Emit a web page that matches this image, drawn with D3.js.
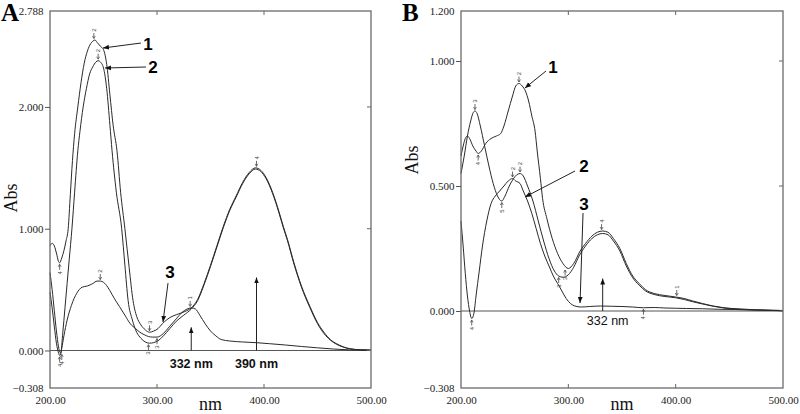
<!DOCTYPE html>
<html><head><meta charset="utf-8">
<script src="https://cdn.jsdelivr.net/npm/d3@7"></script>
<style>body{margin:0;background:#fff}svg{display:block}</style>
</head><body>
<svg id="c" width="800" height="414"></svg>
<script>
// ---------- data ----------
const xTicks = [200, 300, 400, 500];
const yTicksA = [-0.308, 0, 1, 2, 2.788];
const yTicksB = [-0.308, 0, 0.5, 1, 1.2];

const curveA1 = [[200,0.86],[202,0.88],[204,0.86],[206,0.80],[208,0.73],[209,0.72],[211,0.76],[213,0.82],[215,0.90],[217,1.00],[219,1.28],[221,1.56],[223,1.78],[226,2.00],[229,2.20],[232,2.36],[235,2.46],[238,2.52],[240,2.54],[242,2.55],[244,2.53],[247,2.50],[250,2.47],[253,2.35],[256,2.10],[259,1.85],[262.6,1.64],[266,1.30],[270,1.00],[274,0.68],[277.6,0.41],[281,0.28],[285,0.21],[289,0.17],[293,0.15],[297,0.16],[301,0.18],[305,0.22],[312,0.27],[320,0.30],[326,0.32],[332,0.35],[338,0.42],[344,0.55],[350,0.70],[356,0.86],[362,1.02],[368,1.16],[374,1.27],[380,1.38],[386,1.46],[392,1.50],[397,1.48],[402,1.42],[408,1.30],[414,1.14],[418,1.02],[422,0.91],[428,0.72],[435,0.53],[443,0.36],[450,0.23],[456,0.15],[462,0.09],[468,0.055],[474,0.03],[480,0.015],[490,0.006],[500,0.003]];
const curveA2 = [[200,0.48],[202,0.35],[204,0.20],[206,0.06],[208,-0.02],[209,-0.04],[210,-0.03],[212,0.15],[214,0.35],[216,0.55],[218,0.75],[220.5,1.00],[223,1.30],[226,1.64],[228,1.80],[231,2.00],[234,2.15],[237,2.27],[240,2.33],[243,2.37],[245,2.38],[247,2.37],[250,2.32],[253,2.15],[256,1.85],[258,1.64],[262,1.30],[267,1.00],[270,0.70],[273,0.41],[277,0.25],[281,0.15],[285,0.10],[289,0.07],[293,0.06],[297,0.065],[301,0.08],[306,0.12],[312,0.18],[318,0.24],[325,0.29],[332,0.34],[338,0.41],[344,0.54],[350,0.69],[356,0.85],[362,1.01],[368,1.15],[374,1.26],[380,1.37],[386,1.45],[392,1.49],[397,1.47],[402,1.41],[408,1.29],[414,1.13],[418,1.01],[422,0.90],[428,0.71],[435,0.52],[443,0.35],[450,0.22],[456,0.14],[462,0.085],[468,0.05],[474,0.028],[480,0.014],[490,0.005],[500,0.002]];
const curveA3 = [[200,0.64],[202,0.50],[204,0.33],[206,0.16],[208,0.03],[209,-0.01],[210,-0.02],[211,0.02],[213,0.12],[216,0.25],[220,0.37],[225,0.47],[230,0.52],[235,0.53],[240,0.55],[244,0.57],[247,0.57],[250,0.56],[254,0.52],[258,0.46],[262,0.40],[265,0.36],[270,0.29],[275,0.22],[280,0.18],[284,0.15],[288,0.13],[292,0.115],[296,0.11],[300,0.11],[306,0.14],[312,0.20],[318,0.26],[323,0.31],[328,0.34],[332,0.35],[336,0.34],[340,0.29],[345,0.22],[350,0.16],[355,0.12],[360,0.09],[368,0.078],[380,0.07],[393,0.064],[405,0.056],[420,0.045],[435,0.033],[450,0.022],[465,0.012],[480,0.005],[500,0.002]];

const curveB1 = [[200,0.62],[202,0.66],[204,0.69],[206,0.70],[208,0.69],[211,0.66],[214,0.64],[216,0.63],[219,0.64],[223,0.67],[228,0.69],[233,0.70],[237,0.71],[240,0.74],[244,0.80],[248,0.86],[251,0.90],[254,0.91],[257,0.90],[260,0.88],[263,0.84],[266,0.78],[269,0.72],[271,0.64],[274,0.53],[276,0.45],[280,0.37],[285,0.29],[290,0.23],[295,0.19],[300,0.17],[305,0.19],[311,0.24],[316,0.27],[322,0.30],[327,0.315],[332,0.32],[337,0.315],[342,0.29],[348,0.25],[354,0.19],[360,0.14],[366,0.11],[372,0.085],[380,0.07],[390,0.062],[400,0.056],[408,0.05],[416,0.04],[425,0.03],[435,0.02],[445,0.013],[460,0.008],[475,0.005],[490,0.003],[500,0.002]];
const curveB2 = [[200,0.55],[203,0.62],[206,0.70],[209,0.76],[211,0.79],[213,0.80],[215,0.79],[218,0.74],[222,0.66],[226,0.58],[230,0.51],[234,0.46],[238,0.44],[241,0.46],[245,0.50],[249,0.53],[252,0.545],[255,0.55],[258,0.54],[262,0.50],[267,0.44],[272,0.36],[277,0.28],[282,0.21],[287,0.16],[291,0.14],[295,0.135],[300,0.145],[305,0.175],[310,0.22],[316,0.26],[322,0.29],[327,0.305],[332,0.31],[337,0.305],[342,0.28],[348,0.24],[354,0.18],[360,0.133],[366,0.103],[372,0.08],[380,0.066],[390,0.058],[400,0.053],[408,0.046],[416,0.037],[425,0.028],[435,0.019],[445,0.012],[460,0.007],[475,0.004],[490,0.002],[500,0.001]];
const curveB3 = [[200,0.36],[202,0.26],[204,0.15],[206,0.06],[208,0.0],[210,-0.03],[212,-0.01],[214,0.06],[217,0.16],[220,0.26],[224,0.36],[228,0.43],[232,0.46],[236,0.48],[240,0.50],[244,0.52],[248,0.53],[251,0.52],[255,0.51],[258,0.48],[262,0.44],[266,0.39],[270,0.33],[274,0.27],[278,0.22],[282,0.18],[286,0.14],[290,0.11],[294,0.08],[298,0.05],[302,0.03],[306,0.02],[312,0.016],[320,0.018],[330,0.02],[340,0.019],[350,0.018],[360,0.016],[370,0.013],[380,0.014],[390,0.012],[400,0.011],[410,0.01],[425,0.009],[440,0.007],[455,0.006],[470,0.004],[485,0.003],[500,0.002]];

// peak-pick markers: [nm, abs, digit, side(-1 above, +1 below)]
const markersA = [[241,2.55,"2",-1],[245,2.38,"2",-1],[209,0.72,"4",1],[209,-0.04,"4",1],[211,-0.02,"4",1],[247,0.57,"2",-1],[292,0.06,"3",1],[300,0.11,"3",1],[293,0.15,"3",-1],[331,0.35,"1",-1],[393,1.50,"4",-1]];
const markersB = [[254,0.91,"2",-1],[213,0.80,"3",-1],[216,0.63,"4",1],[238,0.44,"5",1],[248,0.53,"2",-1],[255,0.55,"2",-1],[210,-0.03,"4",1],[297,0.17,"3",1],[291,0.14,"3",1],[331,0.32,"4",-1],[401,0.056,"1",-1],[370,0.013,"4",1]];

// curve callouts: label, label pos, line start, arrow tip (data coords)
const calloutsA = [["1",[291.6,2.517],[285.0,2.525],[249.5,2.484]],["2",[296.3,2.328],[289.7,2.328],[251.4,2.32]],["3",[312.1,0.645],[310.3,0.554],[305.6,0.234]]];
const calloutsB = [["1",[285.7,0.976],[279.2,0.96],[259.6,0.892]],["2",[314.6,0.58],[306.2,0.56],[259.6,0.456]],["3",[314.6,0.428],[313.7,0.392],[310.9,0.032]]];
// wavelength arrows: [nm, arrow head abs, label]
const waveA = [[332,0.19,"332 nm"],[393,0.60,"390 nm"]];
const waveB = [[332,0.13,"332 nm"]];

// ---------- drawing ----------
const svg = d3.select("#c");
const defs = svg.append("defs");
defs.append("marker").attr("id","ah").attr("viewBox","0 0 10 10").attr("refX",10).attr("refY",5)
  .attr("markerWidth",6).attr("markerHeight",6).attr("orient","auto")
  .append("path").attr("d","M0,1 L10,5 L0,9 z").attr("fill","#111");

function panel(o){
  const x = d3.scaleLinear().domain([200,500]).range([o.x0,o.x1]);
  const y = d3.scaleLinear().domain(o.yDom).range([388,11]);
  const g = svg.append("g");
  g.append("line").attr("x1",o.x0).attr("x2",o.x1).attr("y1",y(0)).attr("y2",y(0))
    .attr("stroke","#555").attr("stroke-width",1);
  const line = d3.line().x(d=>x(d[0])).y(d=>y(d[1])).curve(d3.curveMonotoneX);
  o.curves.forEach(c=>g.append("path").attr("d",line(c)).attr("fill","none")
    .attr("stroke","#2a2a2a").attr("stroke-width",1));
  g.append("rect").attr("x",o.x0).attr("y",11).attr("width",o.x1-o.x0).attr("height",377)
    .attr("fill","none").attr("stroke","#6a6a6a").attr("stroke-width",1.3);
  const ya = d3.axisLeft(y).tickValues(o.yTicks).tickFormat(d3.format(".3f")).tickSize(5).tickPadding(1.5);
  const yg = g.append("g").attr("transform",`translate(${o.x0},0)`).call(ya);
  yg.select(".domain").remove();
  yg.selectAll("line").attr("stroke","#555");
  yg.selectAll("text").attr("font-family","Liberation Serif").attr("font-size",11).attr("fill","#222");
  yg.selectAll(".tick").filter(d=>d===o.yDom[0]||d===o.yDom[1]).select("line").remove();
  const xa = d3.axisBottom(x).tickValues(xTicks).tickFormat(d3.format(".2f")).tickSize(0).tickPadding(8);
  const xg = g.append("g").attr("transform","translate(0,388)").call(xa);
  xg.select(".domain").remove();
  xg.selectAll("text").attr("font-family","Liberation Serif").attr("font-size",11).attr("fill","#222");
  [300,400].forEach(v=>{
    g.append("line").attr("x1",x(v)).attr("x2",x(v)).attr("y1",388).attr("y2",384).attr("stroke","#666");
    g.append("line").attr("x1",x(v)).attr("x2",x(v)).attr("y1",11).attr("y2",15).attr("stroke","#666");
  });
  o.yTicks.slice(1,-1).forEach(v=>{
    g.append("line").attr("x1",o.x1).attr("x2",o.x1-4).attr("y1",y(v)).attr("y2",y(v)).attr("stroke","#666");
  });
  g.append("text").attr("x",(o.x0+o.x1)/2).attr("y",410).attr("text-anchor","middle")
    .attr("font-family","Liberation Serif").attr("font-size",18).attr("fill","#111").text("nm");
  g.append("text").attr("transform",`translate(${o.absX},${o.absY}) rotate(-90)`).attr("text-anchor","middle")
    .attr("font-family","Liberation Serif").attr("font-size",18).attr("fill","#111").text("Abs");
  g.append("text").attr("x",o.letterX).attr("y",21).attr("font-family","Liberation Serif")
    .attr("font-weight","bold").attr("font-size",25).attr("fill","#000").text(o.letter);
  o.markers.forEach(m=>{
    const px=x(m[0]), py=y(m[1]), s=m[3];
    g.append("line").attr("x1",px).attr("x2",px).attr("y1",py+s*1.5).attr("y2",py+s*7)
      .attr("stroke","#444").attr("stroke-width",0.8);
    g.append("path").attr("d",`M${px-1.5},${py+s*4} L${px},${py+s*1.5} L${px+1.5},${py+s*4}`)
      .attr("fill","none").attr("stroke","#444").attr("stroke-width",0.7);
    g.append("text").attr("transform",`translate(${px+2},${py+s*10}) rotate(-90)`)
      .attr("text-anchor","middle").attr("font-family","Liberation Sans").attr("font-size",6).attr("fill","#444").text(m[2]);
  });
  o.waves.forEach(w=>{
    g.append("line").attr("x1",x(w[0])).attr("x2",x(w[0])).attr("y1",y(0)).attr("y2",y(w[1]))
      .attr("stroke","#222").attr("stroke-width",1).attr("marker-end","url(#ah)");
    g.append("text").attr("x",x(w[0])+o.waveDx).attr("y",y(0)+o.waveDy).attr("text-anchor","middle")
      .attr("font-family","Liberation Sans").attr("font-weight",o.waveBold?"bold":"normal")
      .attr("font-size",12.5).attr("fill","#111").text(w[2]);
  });
  o.callouts.forEach(c=>{
    g.append("line").attr("x1",x(c[2][0])).attr("y1",y(c[2][1])).attr("x2",x(c[3][0])).attr("y2",y(c[3][1]))
      .attr("stroke","#222").attr("stroke-width",1).attr("marker-end","url(#ah)");
    g.append("text").attr("x",x(c[1][0])).attr("y",y(c[1][1])).attr("dy","0.36em").attr("text-anchor","middle")
      .attr("font-family","Liberation Sans").attr("font-weight","bold").attr("font-size",17).attr("fill","#000").text(c[0]);
  });
}

panel({x0:50,x1:371,yDom:[-0.308,2.788],yTicks:yTicksA,curves:[curveA1,curveA2,curveA3],
  markers:markersA,waves:waveA,callouts:calloutsA,absX:17,absY:198,letter:"A",letterX:1,
  waveDx:0,waveDy:18,waveBold:true});
panel({x0:461,x1:783,yDom:[-0.308,1.2],yTicks:yTicksB,curves:[curveB1,curveB2,curveB3],
  markers:markersB,waves:waveB,callouts:calloutsB,absX:418,absY:160,letter:"B",letterX:402,
  waveDx:5,waveDy:14,waveBold:false});
</script>
</body></html>
